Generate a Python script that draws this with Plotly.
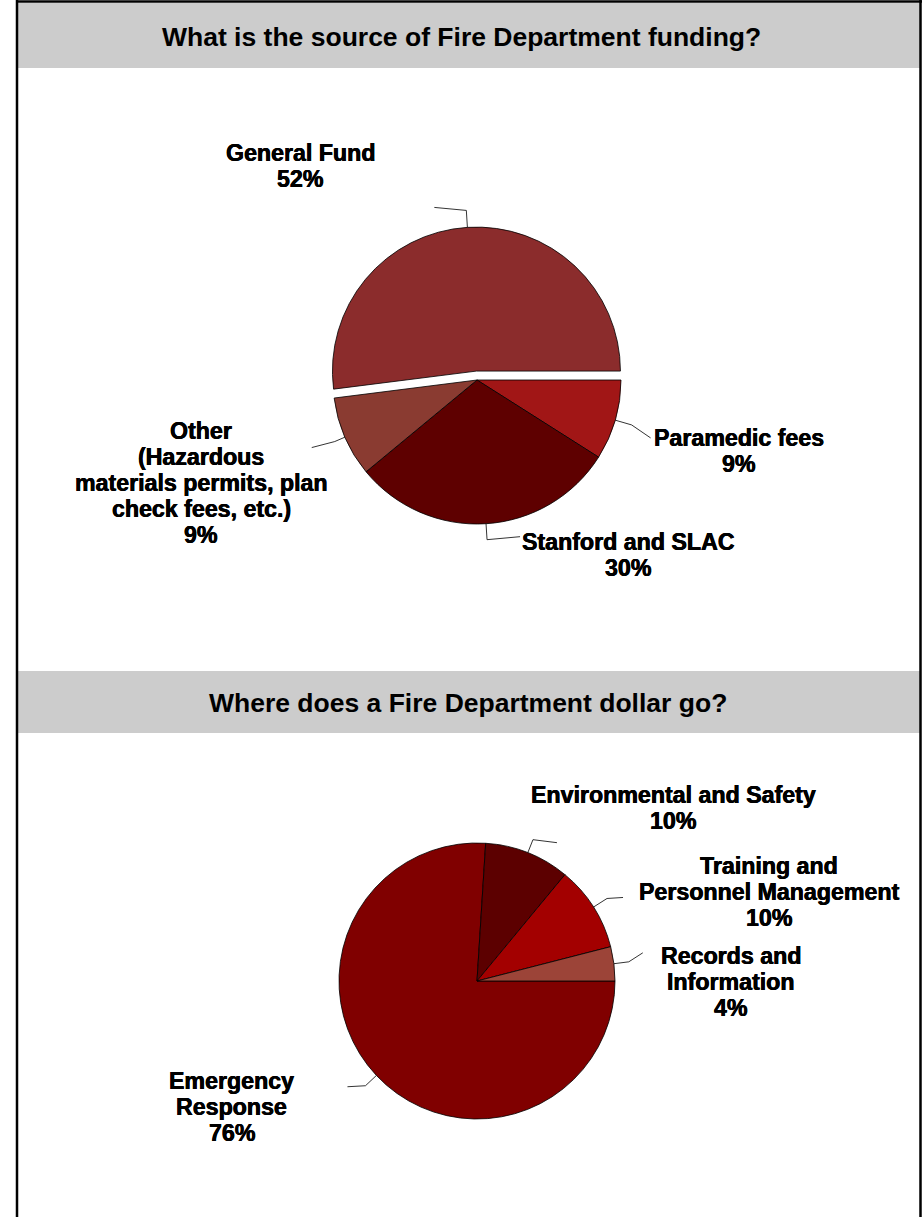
import math
import plotly.graph_objects as go

# ---- data -------------------------------------------------------------
funding_labels = ["Paramedic fees", "Stanford and SLAC",
                  "Other (Hazardous materials permits, plan check fees, etc.)",
                  "General Fund"]
funding_values = [9, 30, 9, 52]
funding_text = [["Paramedic fees", "9%"],
                ["Stanford and SLAC", "30%"],
                ["Other", "(Hazardous", "materials permits, plan", "check fees, etc.)", "9%"],
                ["General Fund", "52%"]]
funding_colors = ["#A11616", "#5E0000", "#8A3B31", "#8B2C2C"]
funding_pull = [0, 0, 0, 0.062]

spend_labels = ["Emergency Response", "Environmental and Safety",
                "Training and Personnel Management", "Records and Information"]
spend_values = [76, 10, 10, 4]
spend_text = [["Emergency", "Response", "76%"],
              ["Environmental and Safety", "10%"],
              ["Training and", "Personnel Management", "10%"],
              ["Records and", "Information", "4%"]]
spend_colors = ["#800000", "#5C0000", "#A30000", "#9C4438"]
spend_pull = [0, 0, 0, 0]

titles = ["What is the source of Fire Department funding?",
          "Where does a Fire Department dollar go?"]

# ---- page geometry (pixels) ------------------------------------------
W, H = 923, 1217
FONT = "Liberation Sans, Arial, sans-serif"
LABEL_SIZE = 23.2
LINE_GAP = 26
HEAVY = "0.35px 0 0 #000, -0.35px 0 0 #000"


def px(x):
    return x / W


def py(y):
    return 1 - y / H


# pie placement: centre and radius in pixels, plus leader/label layout
pies = [
    dict(labels=funding_labels, values=funding_values, text=funding_text,
         colors=funding_colors, pull=funding_pull,
         cx=477, cy=380, r=144,
         leaders=[(17, 19, 13), (16, 33, -3), (11, -23, 6), (17, -32, -3)],
         label_pos=[(739, 451), (628, 555), (201, 483), (300, 166)]),
    dict(labels=spend_labels, values=spend_values, text=spend_text,
         colors=spend_colors, pull=spend_pull,
         cx=477, cy=981, r=138,
         leaders=[(15, -18, 1), (14, 24, 3), (16, 16, -1), (15, 14, -9)],
         label_pos=[(232, 1107), (673, 808), (769, 892), (731, 982)]),
]

fig = go.Figure()
shapes = []
annotations = []

for p in pies:
    maxpull = max(p["pull"])
    half = p["r"] * (1 + maxpull)
    # slices run clockwise starting at 3 o'clock
    fig.add_trace(go.Pie(
        labels=p["labels"], values=p["values"], sort=False,
        direction="clockwise", rotation=90, pull=p["pull"],
        marker=dict(colors=p["colors"], line=dict(color="black", width=0.8)),
        textinfo="none", hoverinfo="label+percent", showlegend=False,
        domain=dict(x=[px(p["cx"] - half), px(p["cx"] + half)],
                    y=[py(p["cy"] + half), py(p["cy"] - half)]),
    ))

    # leader lines start at the middle of each slice's arc
    total = sum(p["values"])
    cum = 0.0
    for v, pull, (l1, dx, dy), (lx, ly), lines in zip(
            p["values"], p["pull"], p["leaders"], p["label_pos"], p["text"]):
        mid = (cum + v / 2) / total * 2 * math.pi
        cum += v
        ux, uy = math.cos(mid), math.sin(mid)  # screen y points down
        rr = p["r"] * (1 + pull)
        x0, y0 = p["cx"] + rr * ux, p["cy"] + rr * uy
        x1, y1 = x0 + l1 * ux, y0 + l1 * uy
        x2, y2 = x1 + dx, y1 + dy
        shapes.append(dict(
            type="path", xref="paper", yref="paper",
            path=f"M {px(x0)},{py(y0)} L {px(x1)},{py(y1)} L {px(x2)},{py(y2)}",
            line=dict(color="black", width=0.8)))
        n = len(lines)
        for i, t in enumerate(lines):
            yy = ly + (i - (n - 1) / 2) * LINE_GAP
            annotations.append(dict(
                x=px(lx), y=py(yy), xref="paper", yref="paper",
                text=f"<b>{t}</b>", showarrow=False,
                xanchor="center", yanchor="middle",
                font=dict(family=FONT, size=LABEL_SIZE, color="black",
                          shadow=HEAVY)))

# grey title bands and frame
bands = [(3, 68, 37, 462), (671, 733, 703, 468)]
for (top, bottom, mid, cx), title in zip(bands, titles):
    shapes.append(dict(type="rect", xref="paper", yref="paper",
                       x0=px(18), x1=px(920), y0=py(bottom), y1=py(top),
                       fillcolor="#CCCCCC", line=dict(width=0), layer="below"))
    annotations.append(dict(
        x=px(cx), y=py(mid), xref="paper", yref="paper",
        text=f"<b>{title}</b>", showarrow=False, xanchor="center", yanchor="middle",
        font=dict(family=FONT, size=26.5, color="black")))

frame = dict(color="black", width=2.5)
shapes.append(dict(type="line", xref="paper", yref="paper",
                   x0=px(17), x1=px(17), y0=0, y1=1, line=frame))
shapes.append(dict(type="line", xref="paper", yref="paper",
                   x0=px(920.5), x1=px(920.5), y0=0, y1=1, line=frame))
shapes.append(dict(type="line", xref="paper", yref="paper",
                   x0=px(16), x1=px(922), y0=py(1.5), y1=py(1.5), line=frame))

fig.update_layout(
    width=W, height=H, autosize=False,
    margin=dict(l=0, r=0, t=0, b=0),
    paper_bgcolor="white", plot_bgcolor="white",
    shapes=shapes, annotations=annotations,
)

fig.write_html("out.html", config={"displayModeBar": False})
